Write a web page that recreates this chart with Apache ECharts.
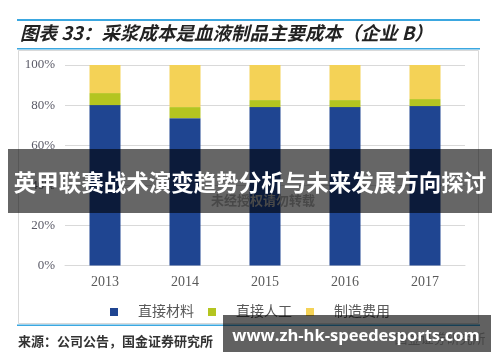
<!DOCTYPE html>
<html><head><meta charset="utf-8">
<script src="https://cdn.jsdelivr.net/npm/echarts@6/dist/echarts.min.js"></script>
<style>html,body{margin:0;padding:0;background:#fff}#c{width:500px;height:362px}</style>
</head><body><div id="c"></div>
<script>
var years = ['2013','2014','2015','2016','2017'];
var materials = [80, 73.5, 79, 79, 79.5];
var labor = [6, 5.5, 3.5, 3.5, 3.5];
var overhead = [14, 21, 17.5, 17.5, 17];
var seriesNames = ['直接材料','直接人工','制造费用'];
var yTicks = [0, 20, 40, 60, 80, 100];

var chart = echarts.init(document.getElementById('c'), null, {renderer:'canvas'});
var colors = ['#1F4591','#B4C520','#F4D256'];
var serif = '"Liberation Serif","DejaVu Serif","Noto Sans CJK SC",serif';
chart.setOption({
  animation:false,
  grid:{left:65,right:35,top:65,bottom:96.5},
  legend:{
    left:105, top:300, itemWidth:8, itemHeight:8, itemGap:14, icon:'rect',
    data:seriesNames,
    textStyle:{fontFamily:serif, fontSize:14, color:'#595959', padding:[0,0,0,15]}
  },
  xAxis:{type:'category', data:years,
    axisLine:{lineStyle:{color:'#d9d9d9'}}, axisTick:{show:false},
    axisLabel:{fontFamily:serif, fontSize:14, color:'#595959', margin:10}},
  yAxis:{type:'value', min:yTicks[0], max:yTicks[yTicks.length-1], interval:20,
    axisLabel:{formatter:'{value}%', fontFamily:serif, fontSize:13, color:'#595966', margin:10},
    splitLine:{lineStyle:{color:'#d9d9d9'}}, axisLine:{show:false}, axisTick:{show:false}},
  series:[
    {name:seriesNames[0], type:'bar', stack:'a', data:materials, barWidth:31, itemStyle:{color:colors[0]}},
    {name:seriesNames[1], type:'bar', stack:'a', data:labor, itemStyle:{color:colors[1]}},
    {name:seriesNames[2], type:'bar', stack:'a', data:overhead, itemStyle:{color:colors[2]}}
  ],
  graphic:[
    {type:'rect', shape:{x:17,y:19,width:463,height:2}, style:{fill:'#3BA7E0'}, z:10},
    {type:'text', x:20, y:33, style:{text:'图表 33：采浆成本是血液制品主要成本（企业 B）', fill:'#222', font:'italic bold 18.5px "Noto Sans CJK SC"', textVerticalAlign:'middle'}, z:10},
    {type:'rect', shape:{x:17,y:48,width:463,height:1.5}, style:{fill:'#3BA7E0'}, z:10},
    {type:'rect', shape:{x:18.5,y:50.5,width:460,height:273}, style:{fill:'none', stroke:'#d9d9d9', lineWidth:1}, z:10},
    {type:'rect', shape:{x:17,y:324.5,width:463,height:1.5}, style:{fill:'#3BA7E0'}, z:10},
    {type:'text', x:18, y:341, style:{text:'来源：公司公告，国金证券研究所', fill:'#333', font:'bold 13px "Noto Sans CJK SC"', textVerticalAlign:'middle'}, z:10},
    {type:'text', x:263, y:200, style:{text:'未经授权请勿转载', fill:'#b5b5b5', font:'bold 13px "Noto Sans CJK SC"', textAlign:'center', textVerticalAlign:'middle'}, z:20},
    {type:'text', x:440, y:338, style:{text:'国金证券研究所', fill:'#b5b5b5', font:'13px "Noto Sans CJK SC"', textAlign:'center', textVerticalAlign:'middle'}, z:20},
    {type:'rect', shape:{x:8,y:149,width:484,height:64}, style:{fill:'rgba(0,0,0,0.6)'}, z:30},
    {type:'text', x:250, y:182, style:{text:'英甲联赛战术演变趋势分析与未来发展方向探讨', fill:'#fff', font:'bold 22.5px "Noto Sans CJK SC"', textAlign:'center', textVerticalAlign:'middle'}, z:31},
    {type:'rect', shape:{x:223,y:315,width:268,height:37}, style:{fill:'rgba(0,0,0,0.62)'}, z:30},
    {type:'text', x:356, y:336, style:{text:'www.zh-hk-speedesports.com', fill:'#fff', font:'bold 16.5px "Open Sans"', textAlign:'center', textVerticalAlign:'middle'}, z:31}
  ]
});
</script></body></html>
